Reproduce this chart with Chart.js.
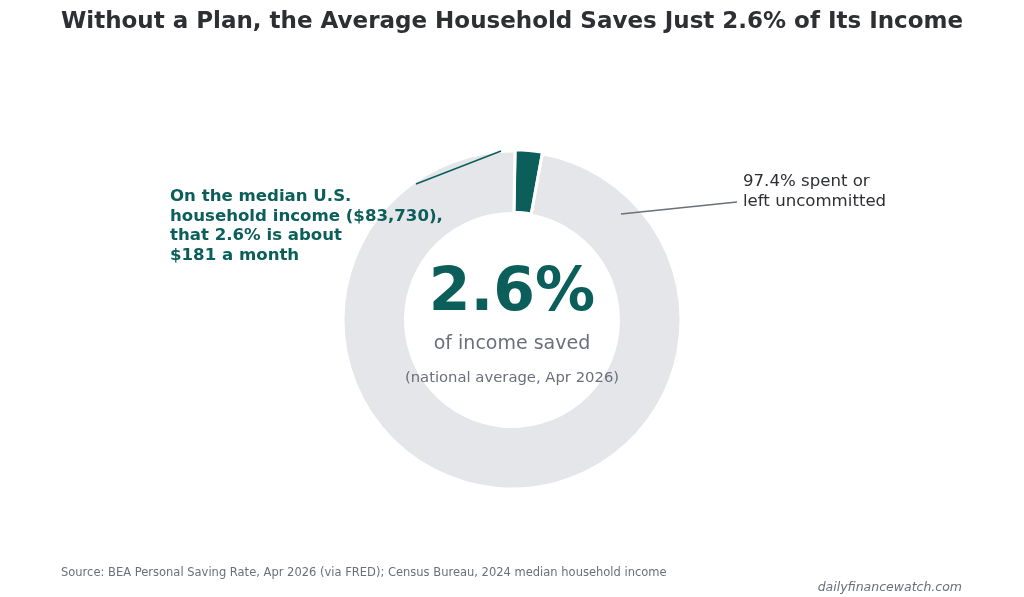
<!DOCTYPE html>
<html lang="en">
<head>
<meta charset="UTF-8">
<title>Household Saving Rate</title>
<script src="https://cdn.jsdelivr.net/npm/chart.js"></script>
<style>
  html, body { margin: 0; padding: 0; background: #fff; }
  canvas { display: block; }
</style>
</head>
<body>
<canvas id="savingChart" width="1024" height="597"></canvas>
<script>
// Data
const categories = ['Saved', 'Spent or left uncommitted'];
const shares = [2.6, 97.4];
const sliceColors = ['#0b5e5a', '#e5e6ea'];

const TEAL = '#0b5e5a';
const GREY = '#6b6f7b';
const DARK = '#2d2f33';
const FONT = '"DejaVu Sans", sans-serif';

// Draws the title, centre text, callouts and footer
const annotations = {
    id: 'annotations',
    afterDraw(chart) {
        const ctx = chart.ctx;
        const arc = chart.getDatasetMeta(0).data[1];
        const cx = arc.x, cy = arc.y;
        ctx.save();
        ctx.textAlign = 'center';
        ctx.textBaseline = 'middle';

        ctx.fillStyle = DARK;
        ctx.font = 'bold 23px ' + FONT;
        ctx.fillText('Without a Plan, the Average Household Saves Just ' + shares[0] + '% of Its Income', 512, 22);

        ctx.fillStyle = TEAL;
        ctx.font = 'bold 60px ' + FONT;
        ctx.fillText(shares[0] + '%', cx, cy - 26);
        ctx.fillStyle = GREY;
        ctx.font = '19px ' + FONT;
        ctx.fillText('of income saved', cx, cy + 24);
        ctx.font = '14.8px ' + FONT;
        ctx.fillText('(national average, Apr 2026)', cx, cy + 58);

        // callout lines
        ctx.lineWidth = 1.5;
        ctx.strokeStyle = TEAL;
        ctx.beginPath(); ctx.moveTo(416, 184); ctx.lineTo(501, 151); ctx.stroke();
        ctx.strokeStyle = GREY;
        ctx.beginPath(); ctx.moveTo(621, 214); ctx.lineTo(737, 202); ctx.stroke();

        ctx.textAlign = 'left';
        ctx.fillStyle = TEAL;
        ctx.font = 'bold 16.6px ' + FONT;
        ['On the median U.S.', 'household income ($83,730),', 'that ' + shares[0] + '% is about', '$181 a month']
            .forEach((t, i) => ctx.fillText(t, 170, 197 + i * 19.5));

        ctx.fillStyle = DARK;
        ctx.font = '16.6px ' + FONT;
        ctx.fillText(shares[1] + '% spent or', 743, 182);
        ctx.fillText('left uncommitted', 743, 202);

        ctx.fillStyle = GREY;
        ctx.font = '11.5px ' + FONT;
        ctx.fillText('Source: BEA Personal Saving Rate, Apr 2026 (via FRED); Census Bureau, 2024 median household income', 61, 573);
        ctx.textAlign = 'right';
        ctx.font = 'italic 12.5px ' + FONT;
        ctx.fillText('dailyfinancewatch.com', 962, 588);
        ctx.restore();
    }
};

new Chart(document.getElementById('savingChart'), {
    type: 'doughnut',
    data: {
        labels: categories,
        datasets: [{
            data: shares,
            backgroundColor: sliceColors,
            borderColor: '#ffffff',
            borderWidth: 3,
            offset: [3, 0],
            hoverOffset: 0
        }]
    },
    options: {
        responsive: false,
        animation: false,
        cutout: '63%',
        rotation: 1,
        layout: { padding: { top: 148, bottom: 105 } },
        plugins: {
            legend: { display: false },
            tooltip: { enabled: false },
            title: { display: false }
        }
    },
    plugins: [annotations]
});
</script>
</body>
</html>
